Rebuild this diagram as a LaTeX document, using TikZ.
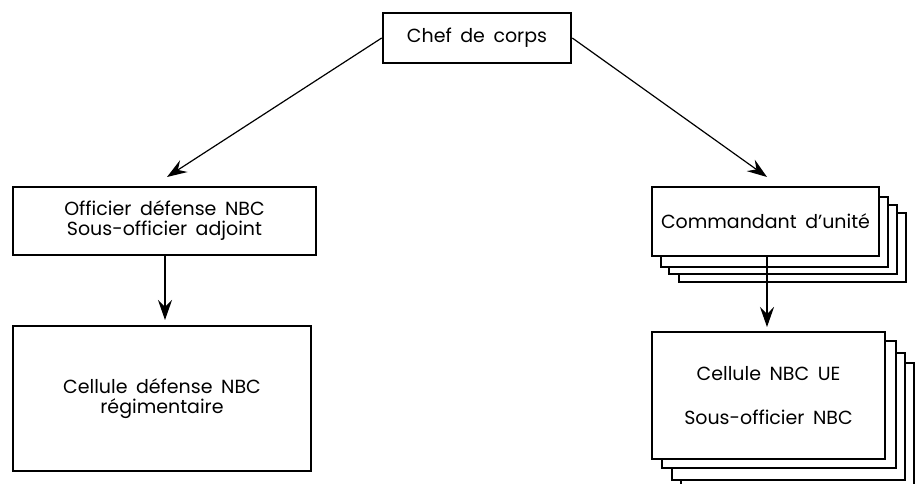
\documentclass[tikz,border=0pt]{standalone}
\usepackage{fontspec}
\setmainfont{Poppins}
\usetikzlibrary{arrows.meta}
\newcommand{\diagfont}{\fontsize{19}{20}\selectfont\spaceskip=0.45em plus 0.1em\relax}
\begin{document}
\begin{tikzpicture}[x=1pt,y=-1pt,
  box/.style={draw, fill=white, line width=2.6pt, inner sep=0pt, align=center,
    font=\diagfont},
  stackbox/.style={draw, fill=white, line width=1.4pt, inner sep=0pt, align=center,
    font=\diagfont},
  layer/.style={draw, fill=white, line width=1.4pt},
  arr/.style={line width=1.2pt, -{Stealth[length=20pt,width=14pt,inset=7pt]}}]
\useasboundingbox (0,0) rectangle (920,484);
\clip (0,0) rectangle (920,484);
% nodes
\node[box, minimum width=188pt, minimum height=50pt] (chef) at (477,38) {Chef de corps};
\node[box, minimum width=303pt, minimum height=68pt] (off) at (164.5,221) {Officier défense NBC\\Sous-officier adjoint};
\node[box, minimum width=298pt, minimum height=145pt] (cell) at (162,398.5) {Cellule défense NBC\\régimentaire};
% stack 1
\draw[layer] (679,213) rectangle (906,282);
\draw[layer] (669,205) rectangle (897,274);
\draw[layer] (661,197) rectangle (888,267);
\node[stackbox, minimum width=227pt, minimum height=69pt] (cmd) at (765.5,221.5) {Commandant d’unité};
% stack 2
\draw[layer] (681,490) -- (681,363) -- (914,363) -- (914,490);
\draw[layer] (672,353) rectangle (905,480);
\draw[layer] (662,341) rectangle (896,468);
\node[stackbox, minimum width=233pt, minimum height=127pt] (ue) at (768.5,395.5) {Cellule NBC UE\\[24pt]Sous-officier NBC};
% arrow ends
\coordinate (tl) at (167,177);
\coordinate (tr) at (767,177);
\coordinate (tv) at (165,320);
\coordinate (sv) at (165,255);
\coordinate (tu) at (767,327);
\coordinate (su) at (767,256);
\draw[arr] (chef.west) -- (tl);
\draw[arr] (chef.east) -- (tr);
\draw[arr] (sv) -- (tv);
\draw[arr] (su) -- (tu);
\end{tikzpicture}
\end{document}
